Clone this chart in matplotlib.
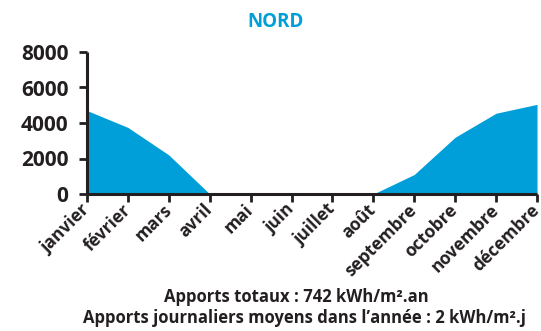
import matplotlib
matplotlib.use("Agg")
import matplotlib.pyplot as plt
from matplotlib.transforms import ScaledTranslation

months = ["janvier", "février", "mars", "avril", "mai", "juin", "juillet",
          "août", "septembre", "octobre", "novembre", "décembre"]
apports = [4700, 3750, 2200, 0, 0, 0, 0, 0, 1100, 3200, 4550, 5050]
yticks = [0, 2000, 4000, 6000, 8000]

blue = "#009fd9"
dark = "#231f20"
plt.rcParams["font.family"] = ["Open Sans", "DejaVu Sans"]

fig = plt.figure(figsize=(5.41, 3.31), dpi=100)
ax = fig.add_axes([87 / 541, 1 - 194 / 331, (537 - 87) / 541, (194 - 52) / 331])

x = list(range(len(months)))
ax.fill_between(x, apports, 0, color=blue, linewidth=0)

ax.set_xlim(0, len(months) - 1)
ax.set_ylim(0, 8000)
ax.set_yticks(yticks)
ax.set_yticklabels([str(v) for v in yticks], fontsize=15, fontweight="bold", color=dark)
ax.set_xticks(x)
ax.set_xticklabels(months, rotation=45, ha="right", va="center", rotation_mode="anchor",
                   fontsize=12.5, fontweight="bold", color=dark)
shift = ScaledTranslation(-1 / 100, 0, fig.dpi_scale_trans)
for lbl in ax.get_xticklabels():
    lbl.set_transform(lbl.get_transform() + shift)
for s in ["top", "right"]:
    ax.spines[s].set_visible(False)
for s in ["left", "bottom"]:
    ax.spines[s].set_linewidth(2.2)
    ax.spines[s].set_color(dark)
    ax.spines[s].set_capstyle("butt")
ax.tick_params(axis="both", length=5.5, width=2, color=dark)
ax.tick_params(axis="x", pad=4)
ax.tick_params(axis="y", pad=8)

fig.text(276 / 541, 1 - 22 / 331, "NORD", color=blue, fontsize=13.5, fontweight="bold",
         ha="center", va="center")
fig.text(296 / 541, 1 - 297 / 331, "Apports totaux : 742 kWh/m².an", color=dark,
         fontsize=12, fontweight="bold", ha="center", va="center")
fig.text(304 / 541, 1 - 318 / 331, "Apports journaliers moyens dans l’année : 2 kWh/m².j",
         color=dark, fontsize=12, fontweight="bold", ha="center", va="center")

fig.savefig("out.png", dpi=100)
